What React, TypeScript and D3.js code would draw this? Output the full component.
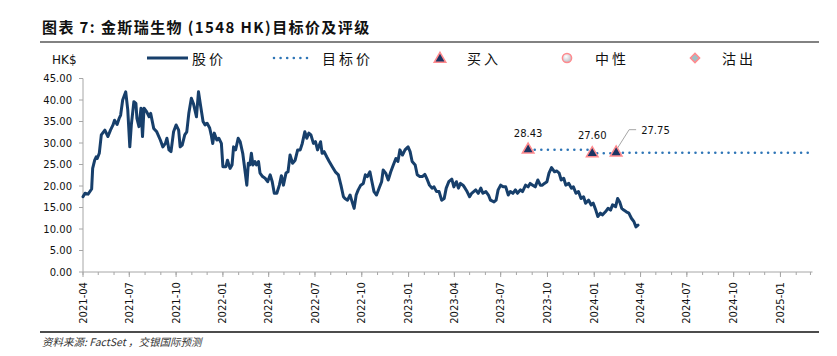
import React from 'react';
import * as d3 from 'd3';

const priceDates = [
  '2021-04-01','2021-04-05','2021-04-11','2021-04-18','2021-04-20','2021-04-24','2021-04-27','2021-04-29','2021-05-03','2021-05-07',
  '2021-05-14','2021-05-20','2021-05-25','2021-05-30','2021-06-02','2021-06-07','2021-06-11','2021-06-14','2021-06-18','2021-06-24',
  '2021-06-28','2021-07-02','2021-07-05','2021-07-10','2021-07-14','2021-07-16','2021-07-20','2021-07-24','2021-07-27','2021-07-30',
  '2021-08-04','2021-08-09','2021-08-12','2021-08-18','2021-08-24','2021-08-31','2021-09-05','2021-09-10','2021-09-13','2021-09-17',
  '2021-09-21','2021-09-26','2021-10-01','2021-10-06','2021-10-09','2021-10-13','2021-10-18','2021-10-22','2021-10-26','2021-10-31',
  '2021-11-04','2021-11-10','2021-11-14','2021-11-18','2021-11-23','2021-11-27','2021-12-01','2021-12-06','2021-12-09','2021-12-12',
  '2021-12-15','2021-12-20','2021-12-24','2021-12-29','2022-01-01','2022-01-07','2022-01-10','2022-01-15','2022-01-19','2022-01-22',
  '2022-01-26','2022-01-31','2022-02-04','2022-02-09','2022-02-12','2022-02-17','2022-02-20','2022-02-23','2022-02-26','2022-03-01',
  '2022-03-05','2022-03-08','2022-03-12','2022-03-15','2022-03-20','2022-03-25','2022-03-30','2022-04-04','2022-04-08','2022-04-12',
  '2022-04-17','2022-04-22','2022-04-26','2022-04-30','2022-05-05','2022-05-09','2022-05-13','2022-05-18','2022-05-23','2022-05-28',
  '2022-06-02','2022-06-06','2022-06-11','2022-06-15','2022-06-19','2022-06-23','2022-06-28','2022-07-02','2022-07-06','2022-07-12',
  '2022-07-15','2022-07-19','2022-07-24','2022-07-29','2022-08-04','2022-08-10','2022-08-16','2022-08-21','2022-08-26','2022-08-29',
  '2022-09-03','2022-09-08','2022-09-11','2022-09-16','2022-09-20','2022-09-24','2022-09-29','2022-10-04','2022-10-08','2022-10-12',
  '2022-10-17','2022-10-21','2022-10-25','2022-10-30','2022-11-04','2022-11-09','2022-11-12','2022-11-17','2022-11-22','2022-11-27',
  '2022-12-02','2022-12-07','2022-12-11','2022-12-15','2022-12-20','2022-12-25','2022-12-31','2023-01-04','2023-01-08','2023-01-14',
  '2023-01-18','2023-01-23','2023-01-28','2023-02-02','2023-02-07','2023-02-11','2023-02-16','2023-02-20','2023-02-25','2023-03-02',
  '2023-03-07','2023-03-12','2023-03-16','2023-03-21','2023-03-27','2023-03-31','2023-04-05','2023-04-09','2023-04-13','2023-04-18',
  '2023-04-22','2023-04-26','2023-05-01','2023-05-05','2023-05-13','2023-05-18','2023-05-23','2023-05-27','2023-06-02','2023-06-07',
  '2023-06-11','2023-06-18','2023-06-22','2023-06-26','2023-07-01','2023-07-06','2023-07-11','2023-07-16','2023-07-20','2023-07-25',
  '2023-07-30','2023-08-03','2023-08-09','2023-08-13','2023-08-19','2023-08-24','2023-08-28','2023-09-02','2023-09-07','2023-09-12',
  '2023-09-17','2023-09-21','2023-09-25','2023-09-30','2023-10-04','2023-10-09','2023-10-15','2023-10-19','2023-10-24','2023-10-28',
  '2023-11-02','2023-11-06','2023-11-12','2023-11-17','2023-11-21','2023-11-26','2023-12-01','2023-12-06','2023-12-11','2023-12-15',
  '2023-12-21','2023-12-26','2023-12-30','2024-01-04','2024-01-08','2024-01-13','2024-01-17','2024-01-23','2024-01-28','2024-02-02',
  '2024-02-06','2024-02-12','2024-02-16','2024-02-20','2024-02-24','2024-02-28','2024-03-04','2024-03-09','2024-03-14','2024-03-19',
  '2024-03-23','2024-03-27'
];

const priceValues = [
  17.5,18.3,18.1,19.3,24.1,26.0,26.8,26.4,27.6,31.9,
  33.0,31.5,33.0,34.2,35.3,34.3,35.7,36.5,40.0,41.9,
  37.7,29.1,34.2,39.6,39.2,35.7,33.8,38.1,31.5,38.1,
  37.3,36.1,36.9,33.4,32.6,30.7,29.1,29.9,31.1,28.4,
  28.0,32.6,34.2,33.0,29.1,29.5,31.9,32.6,36.9,40.4,
  39.2,36.1,41.9,38.8,35.0,34.2,34.6,33.5,31.9,29.9,
  32.3,30.7,31.1,29.9,24.5,24.5,26.0,24.1,24.9,29.1,
  28.4,31.1,30.3,27.6,24.9,20.2,25.3,24.9,27.6,24.9,
  25.7,24.9,25.7,23.0,22.2,21.8,21.0,22.6,21.0,18.3,
  18.3,20.2,22.4,20.2,23.0,23.3,27.2,25.3,26.0,28.4,
  28.4,29.9,32.6,31.1,32.3,31.9,29.9,30.3,28.4,30.3,
  27.6,28.0,26.8,25.7,24.5,23.3,22.6,20.2,17.5,17.1,
  16.7,17.9,16.7,14.8,17.9,19.1,20.2,20.6,22.6,22.2,
  23.3,21.0,18.7,17.9,19.5,21.0,23.7,23.0,21.4,23.3,
  24.9,26.4,25.7,28.4,27.2,28.4,29.1,28.0,25.7,24.9,
  22.6,22.2,22.2,22.7,21.4,20.2,19.5,19.8,18.7,18.7,
  16.7,17.1,19.5,21.0,21.6,19.8,21.0,19.5,20.6,20.2,
  19.5,18.7,17.5,18.3,19.1,18.3,19.5,18.3,18.7,17.9,
  16.7,16.3,16.7,19.1,20.2,19.8,19.8,17.9,18.7,18.3,
  19.1,18.3,19.1,18.7,20.2,19.8,20.6,20.2,19.8,21.4,
  20.2,20.2,20.6,21.0,23.0,24.3,23.3,23.5,23.0,21.4,
  21.8,20.2,20.6,19.5,19.8,18.3,18.7,17.1,17.5,16.0,
  16.7,15.6,16.0,14.4,12.9,13.7,13.3,14.0,14.8,14.4,
  15.6,15.2,17.1,16.3,14.8,14.4,14.0,13.7,12.5,11.7,
  10.5,10.9
];

const targetDates = ['2023-08-24', '2023-12-28', '2024-02-13'];
const targetValues = [28.43, 27.6, 27.75];
const targetLabels = ['28.43', '27.60', '27.75'];
const targetEndDate = '2025-03-05';

const yTicks = [0, 5, 10, 15, 20, 25, 30, 35, 40, 45];
const xDomain = ['2021-04-01', '2025-03-05'];

const titleText = '图表 7: 金斯瑞生物 (1548 HK)目标价及评级';
const sourceText = '资料来源: FactSet ，交银国际预测';
const unitText = 'HK$';
const legendPrice = '股价';
const legendTarget = '目标价';
const legendBuy = '买入';
const legendNeutral = '中性';
const legendSell = '沽出';

const NAVY = '#173f6b';
const DOT = '#2e75b6';
const PINK = '#ff8a8e';
const TRI_FILL = '#1c3563';
const NUM_FONT = '"DejaVu Sans", Verdana, sans-serif';
const CJK_FONT = '"Noto Sans CJK SC", sans-serif';

export default function App() {
  const W = 837, H = 356;
  const parse = d3.timeParse('%Y-%m-%d');
  const x = d3.scaleTime()
    .domain([parse(xDomain[0]) as Date, parse(xDomain[1]) as Date])
    .range([83, 812.5]);
  const y = d3.scaleLinear().domain([0, 45]).range([272, 78.5]);

  const price = priceDates.map((d, i) => ({ d: parse(d) as Date, v: priceValues[i] }));
  const line = d3.line<{ d: Date; v: number }>().x(p => x(p.d)).y(p => y(p.v));

  const tgt = targetDates.map((d, i) => ({ d: parse(d) as Date, v: targetValues[i] }));
  const tgtSteps = [...tgt, { d: parse(targetEndDate) as Date, v: targetValues[targetValues.length - 1] }];
  const stepLine = d3.line<{ d: Date; v: number }>().x(p => x(p.d)).y(p => y(p.v)).curve(d3.curveStepAfter);

  const [d0, d1] = x.domain();
  const majorTicks = d3.timeMonth.every(3)!.range(d0, d1);
  const minorTicks = d3.timeMonth.range(d0, d1);
  const fmt = d3.timeFormat('%Y-%m');

  const tri = d3.symbol().type(d3.symbolTriangle).size(58)()!;
  const sq = d3.symbol().type(d3.symbolSquare).size(42)()!;

  const axisColor = '#a6a6a6';

  return (
    <svg width={W} height={H} style={{ position: 'absolute', left: 0, top: 0, background: '#fff' }}>
      <defs>
        <radialGradient id="neutralGrad" cx="40%" cy="35%" r="70%">
          <stop offset="0%" stopColor="#ffffff" />
          <stop offset="100%" stopColor="#b8b8c0" />
        </radialGradient>
      </defs>
      <rect x={0} y={0} width={W} height={H} fill="#fff" />

      {/* Title */}
      <text x={42} y={33} fontFamily={CJK_FONT} fontWeight="bold" fontSize={15} letterSpacing={1.4} fill="#111">
        {titleText}
      </text>
      <line x1={40} x2={819} y1={42} y2={42} stroke="#595959" strokeWidth={1.6} />

      {/* Unit and legend */}
      <text x={52} y={64} fontFamily={NUM_FONT} fontSize={12} fill="#111">{unitText}</text>
      <line x1={147} x2={188} y1={58} y2={58} stroke={NAVY} strokeWidth={3} />
      <text x={192} y={64} fontFamily={CJK_FONT} fontSize={14} letterSpacing={3} fill="#111">{legendPrice}</text>
      <line x1={274} x2={313} y1={58} y2={58} stroke={DOT} strokeWidth={2.6} strokeLinecap="round" strokeDasharray="0 6.6" />
      <text x={322} y={64} fontFamily={CJK_FONT} fontSize={14} letterSpacing={3} fill="#111">{legendTarget}</text>
      <path d={tri} transform="translate(440,59)" fill={TRI_FILL} stroke={PINK} strokeWidth={1.5} />
      <text x={467} y={64} fontFamily={CJK_FONT} fontSize={14} letterSpacing={3} fill="#111">{legendBuy}</text>
      <circle cx={567} cy={58} r={4.6} fill="url(#neutralGrad)" stroke={PINK} strokeWidth={1.5} />
      <text x={595} y={64} fontFamily={CJK_FONT} fontSize={14} letterSpacing={3} fill="#111">{legendNeutral}</text>
      <path d={sq} transform="translate(695,58) rotate(45)" fill="#9fbfc4" stroke={PINK} strokeWidth={1.5} />
      <text x={722} y={64} fontFamily={CJK_FONT} fontSize={14} letterSpacing={3} fill="#111">{legendSell}</text>

      {/* Y axis */}
      <line x1={83} x2={83} y1={y(45)} y2={y(0)} stroke={axisColor} strokeWidth={1} />
      {yTicks.map(t => (
        <g key={t}>
          <line x1={79} x2={83} y1={y(t)} y2={y(t)} stroke={axisColor} />
          <text x={72} y={y(t) + 3.8} textAnchor="end" fontFamily={NUM_FONT} fontSize={10} fill="#111">
            {t.toFixed(2)}
          </text>
        </g>
      ))}

      {/* X axis */}
      <line x1={83} x2={812.5} y1={y(0)} y2={y(0)} stroke={axisColor} strokeWidth={1} />
      {minorTicks.map((t, i) => (
        <line key={'m' + i} x1={x(t)} x2={x(t)} y1={y(0)} y2={y(0) + 3} stroke={axisColor} />
      ))}
      {majorTicks.map((t, i) => (
        <g key={'M' + i}>
          <line x1={x(t)} x2={x(t)} y1={y(0)} y2={y(0) + 5} stroke={axisColor} />
          <text
            transform={`translate(${x(t) + 3.6},${y(0) + 10}) rotate(-90)`}
            textAnchor="end"
            fontFamily={NUM_FONT}
            fontSize={10}
            fill="#111"
          >
            {fmt(t)}
          </text>
        </g>
      ))}

      {/* Price line */}
      <path d={line(price)!} fill="none" stroke={NAVY} strokeWidth={3} strokeLinejoin="round" strokeLinecap="round" />

      {/* Target price dotted line */}
      <path d={stepLine(tgtSteps)!} fill="none" stroke={DOT} strokeWidth={2.6} strokeLinecap="round" strokeDasharray="0 6.6" />

      {/* Leader line for last label */}
      <polyline
        points={`${x(tgt[2].d) + 1},${y(tgt[2].v) - 4} ${x(tgt[2].d) + 13},${y(tgt[2].v) - 23} ${x(tgt[2].d) + 20},${y(tgt[2].v) - 23}`}
        fill="none"
        stroke="#a6a6a6"
        strokeWidth={1}
      />

      {/* Markers */}
      {tgt.map((p, i) => (
        <path key={'t' + i} d={tri} transform={`translate(${x(p.d)},${y(p.v)})`} fill={TRI_FILL} stroke={PINK} strokeWidth={1.5} />
      ))}

      {/* Labels */}
      <text x={x(tgt[0].d)} y={y(tgt[0].v) - 13} textAnchor="middle" fontFamily={NUM_FONT} fontSize={10} fill="#111">{targetLabels[0]}</text>
      <text x={x(tgt[1].d)} y={y(tgt[1].v) - 14} textAnchor="middle" fontFamily={NUM_FONT} fontSize={10} fill="#111">{targetLabels[1]}</text>
      <text x={x(tgt[2].d) + 25} y={y(tgt[2].v) - 19} textAnchor="start" fontFamily={NUM_FONT} fontSize={10} fill="#111">{targetLabels[2]}</text>

      {/* Bottom rule and source */}
      <line x1={40} x2={819} y1={332} y2={332} stroke="#111" strokeWidth={1.5} />
      <text x={42} y={346} fontFamily={CJK_FONT} fontStyle="italic" fontSize={10.5} fill="#333">{sourceText}</text>
    </svg>
  );
}
